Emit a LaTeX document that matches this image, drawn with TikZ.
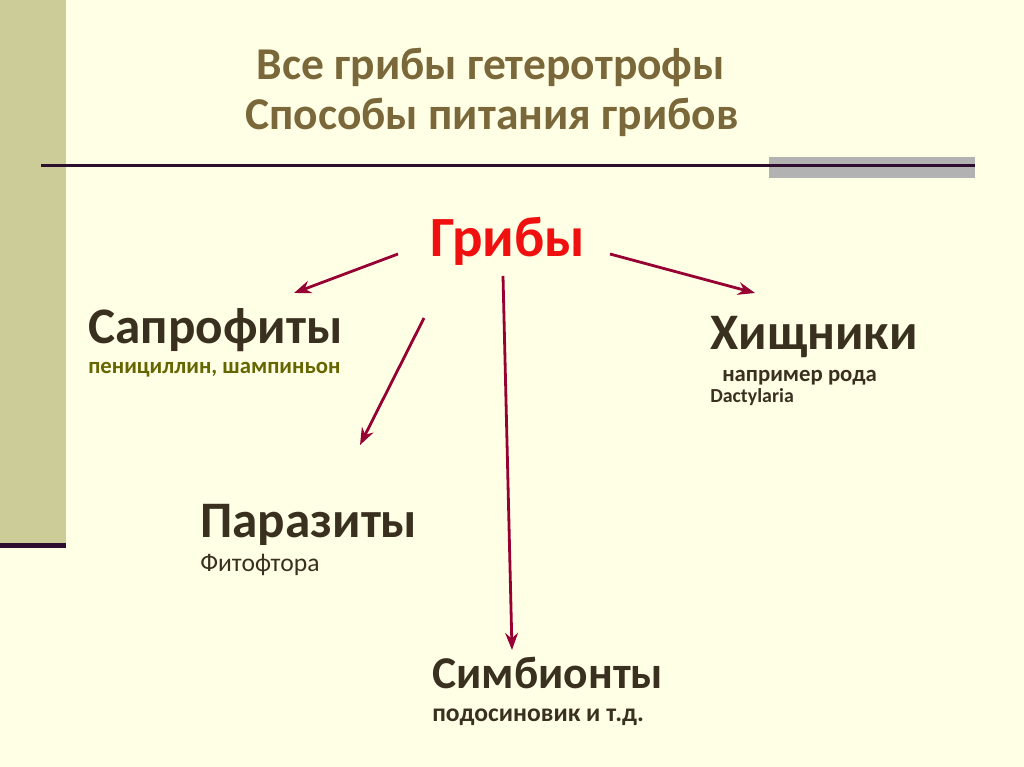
\documentclass[tikz,border=0pt]{standalone}
\usepackage{fontspec}
\setmainfont{Carlito}
\usetikzlibrary{arrows.meta}
\definecolor{bgc}{RGB}{255,255,229}
\definecolor{barc}{RGB}{204,204,153}
\definecolor{linec}{RGB}{46,14,46}
\definecolor{grayc}{RGB}{178,178,178}
\definecolor{titlec}{RGB}{122,104,58}
\definecolor{darkc}{RGB}{58,48,32}
\definecolor{redc}{RGB}{240,16,16}
\definecolor{olivec}{RGB}{102,102,0}
\definecolor{arrc}{RGB}{150,0,50}
\begin{document}
\begin{tikzpicture}[x=0.703125pt,y=-0.703125pt,
  lbl/.style={anchor=base west,inner sep=0pt,text=darkc,font=\fontsize{36}{40}\selectfont\bfseries},
  sub/.style={anchor=base west,inner sep=0pt,text=darkc,font=\fontsize{16}{19}\selectfont\bfseries},
  ttl/.style={anchor=base,inner sep=0pt,text=titlec,font=\fontsize{32}{38}\selectfont\bfseries},
  arr/.style={draw=arrc,line width=2.8pt*0.703125,-{Stealth[length=12pt,width=9pt]}}]
\useasboundingbox (0,0) rectangle (1024,767);
\fill[bgc] (0,0) rectangle (1024,767);
\fill[barc] (0,0) rectangle (66,545);
\fill[linec] (0,543) rectangle (66,548);
\fill[grayc] (769,157) rectangle (975,178);
\fill[linec] (41,164) rectangle (975,167);
\node[ttl] (t1) at (491,80) {Все грибы гетеротрофы};
\node[ttl] (t2) at (492,130) {Способы питания грибов};
\node[anchor=base,inner sep=0pt,text=redc,font=\fontsize{40}{48}\selectfont\bfseries] (g) at (508,256) {Грибы};
\node[lbl] (s) at (88,343) {Сапрофиты};
\node[sub,text=olivec] (s2) at (88,373) {пенициллин, шампиньон};
\node[lbl] (h) at (710,349) {Хищники};
\node[sub] (h2) at (722,381) {например рода};
\node[sub,font=\fontsize{14}{17}\selectfont\bfseries] (h3) at (710,402) {Dactylaria};
\node[lbl] (p) at (200,537) {Паразиты};
\node[sub,font=\fontsize{18}{21}\selectfont] (p2) at (200,571) {Фитофтора};
\node[lbl,font=\fontsize{32}{38}\selectfont\bfseries] (c) at (432,688) {Симбионты};
\node[sub,font=\fontsize{18}{21}\selectfont\bfseries] (c2) at (432,721) {подосиновик и т.д.};
\coordinate (a1s) at (398,254); \coordinate (a1e) at (294,293);
\coordinate (a2s) at (424,318); \coordinate (a2e) at (360,445);
\coordinate (a3s) at (503,276); \coordinate (a3e) at (512,650);
\coordinate (a4s) at (610,254); \coordinate (a4e) at (755,293);
\draw[arr] (a1s) -- (a1e);
\draw[arr] (a2s) -- (a2e);
\draw[arr] (a3s) -- (a3e);
\draw[arr] (a4s) -- (a4e);
\end{tikzpicture}
\end{document}
